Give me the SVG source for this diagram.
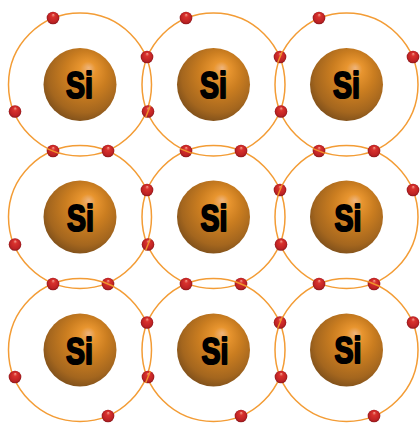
<svg xmlns="http://www.w3.org/2000/svg" xmlns:xlink="http://www.w3.org/1999/xlink" width="420" height="424" viewBox="0 0 420 424">
<style>
.orbit{fill:none;stroke:#f39c35;stroke-width:1.5}
.tick{fill:none;stroke:#f0932c;stroke-width:1.4}
.core{fill:url(#coreFill)}
.sym{font-family:"Liberation Sans",Arial,sans-serif;font-weight:700;font-size:37.5px;fill:#000;stroke:#000;stroke-width:2.1;stroke-linejoin:round;text-anchor:middle}
</style>
<defs>
<radialGradient id="coreFill" cx=".55" cy=".42" r=".64" fx=".62" fy=".27" gradientUnits="objectBoundingBox">
<stop offset="0" stop-color="#eeb47c"/>
<stop offset=".17" stop-color="#e8952f"/>
<stop offset=".45" stop-color="#ca7d20"/>
<stop offset=".78" stop-color="#a4661e"/>
<stop offset="1" stop-color="#754a1a"/>
</radialGradient>
<radialGradient id="elecFill" cx=".5" cy=".5" r=".52" fx=".52" fy=".22">
<stop offset="0" stop-color="#f2a292"/>
<stop offset=".28" stop-color="#d9322d"/>
<stop offset=".78" stop-color="#bd2224"/>
<stop offset="1" stop-color="#84161a"/>
</radialGradient>
<circle id="e" r="6.3" fill="url(#elecFill)"/>
<circle id="o" r="71.5" class="orbit"/>
</defs>

<!-- shells -->
<g id="shells">
<use href="#o" x="80" y="84.5"/><use href="#o" x="213.5" y="84.5"/><use href="#o" x="346.5" y="84.5"/>
<use href="#o" x="80" y="217"/><use href="#o" x="213.5" y="217"/><use href="#o" x="346.5" y="217"/>
<use href="#o" x="80" y="350"/><use href="#o" x="213.5" y="350"/><use href="#o" x="346.5" y="350"/>
</g>

<!-- valence electrons -->
<g id="electrons">
<use href="#e" x="53" y="18"/><use href="#e" x="186" y="18"/><use href="#e" x="319" y="18"/>
<use href="#e" x="147" y="57"/><use href="#e" x="280" y="57"/><use href="#e" x="413" y="57"/>
<use href="#e" x="15" y="111.5"/><use href="#e" x="148" y="111.5"/><use href="#e" x="281" y="111.5"/>
<use href="#e" x="53" y="151"/><use href="#e" x="108" y="151"/><use href="#e" x="186" y="151"/><use href="#e" x="241" y="151"/><use href="#e" x="319" y="151"/><use href="#e" x="374" y="151"/>
<use href="#e" x="147" y="190"/><use href="#e" x="280" y="190"/><use href="#e" x="413" y="190"/>
<use href="#e" x="15" y="244.5"/><use href="#e" x="148" y="244.5"/><use href="#e" x="281" y="244.5"/>
<use href="#e" x="53" y="284"/><use href="#e" x="108" y="284"/><use href="#e" x="186" y="284"/><use href="#e" x="241" y="284"/><use href="#e" x="319" y="284"/><use href="#e" x="374" y="284"/>
<use href="#e" x="147" y="322.5"/><use href="#e" x="280" y="322.5"/><use href="#e" x="413" y="322.5"/>
<use href="#e" x="15" y="377"/><use href="#e" x="148" y="377"/><use href="#e" x="281" y="377"/>
<use href="#e" x="108" y="416"/><use href="#e" x="241" y="416"/><use href="#e" x="374" y="416"/>
</g>

<!-- shell passes in front of these electrons -->
<g id="crossings" class="tick">
<path d="M47 148.6L59 153.4M180 148.6L192 153.4M313 148.6L325 153.4"/>
<path d="M102 281.5L114 286.5M235 281.5L247 286.5M368 281.5L380 286.5"/>
<path d="M145.6 117.5L150.4 105.5M145.6 250.5L150.4 238.5M145.6 383L150.4 371"/>
<path d="M277.6 63L282.4 51M277.6 196L282.4 184M277.6 328.5L282.4 316.5"/>
</g>

<!-- silicon cores -->
<g id="atom-1"><circle class="core" cx="80" cy="84.5" r="36.5"/><text class="sym" transform="translate(79.5 97.5) scale(.76 1)">Si</text></g>
<g id="atom-2"><circle class="core" cx="213.5" cy="84.5" r="36.5"/><text class="sym" transform="translate(213.5 97.5) scale(.76 1)">Si</text></g>
<g id="atom-3"><circle class="core" cx="346.5" cy="84.5" r="36.5"/><text class="sym" transform="translate(346.5 97.5) scale(.76 1)">Si</text></g>
<g id="atom-4"><circle class="core" cx="80" cy="217" r="36.5"/><text class="sym" transform="translate(80.5 230.5) scale(.76 1)">Si</text></g>
<g id="atom-5"><circle class="core" cx="213.5" cy="217" r="36.5"/><text class="sym" transform="translate(214 230.5) scale(.76 1)">Si</text></g>
<g id="atom-6"><circle class="core" cx="346.5" cy="217" r="36.5"/><text class="sym" transform="translate(348 230.5) scale(.76 1)">Si</text></g>
<g id="atom-7"><circle class="core" cx="80" cy="350" r="36.5"/><text class="sym" transform="translate(79.5 363.5) scale(.76 1)">Si</text></g>
<g id="atom-8"><circle class="core" cx="213.5" cy="350" r="36.5"/><text class="sym" transform="translate(215 363.5) scale(.76 1)">Si</text></g>
<g id="atom-9"><circle class="core" cx="346.5" cy="350" r="36.5"/><text class="sym" transform="translate(348 363) scale(.76 1)">Si</text></g>
</svg>
